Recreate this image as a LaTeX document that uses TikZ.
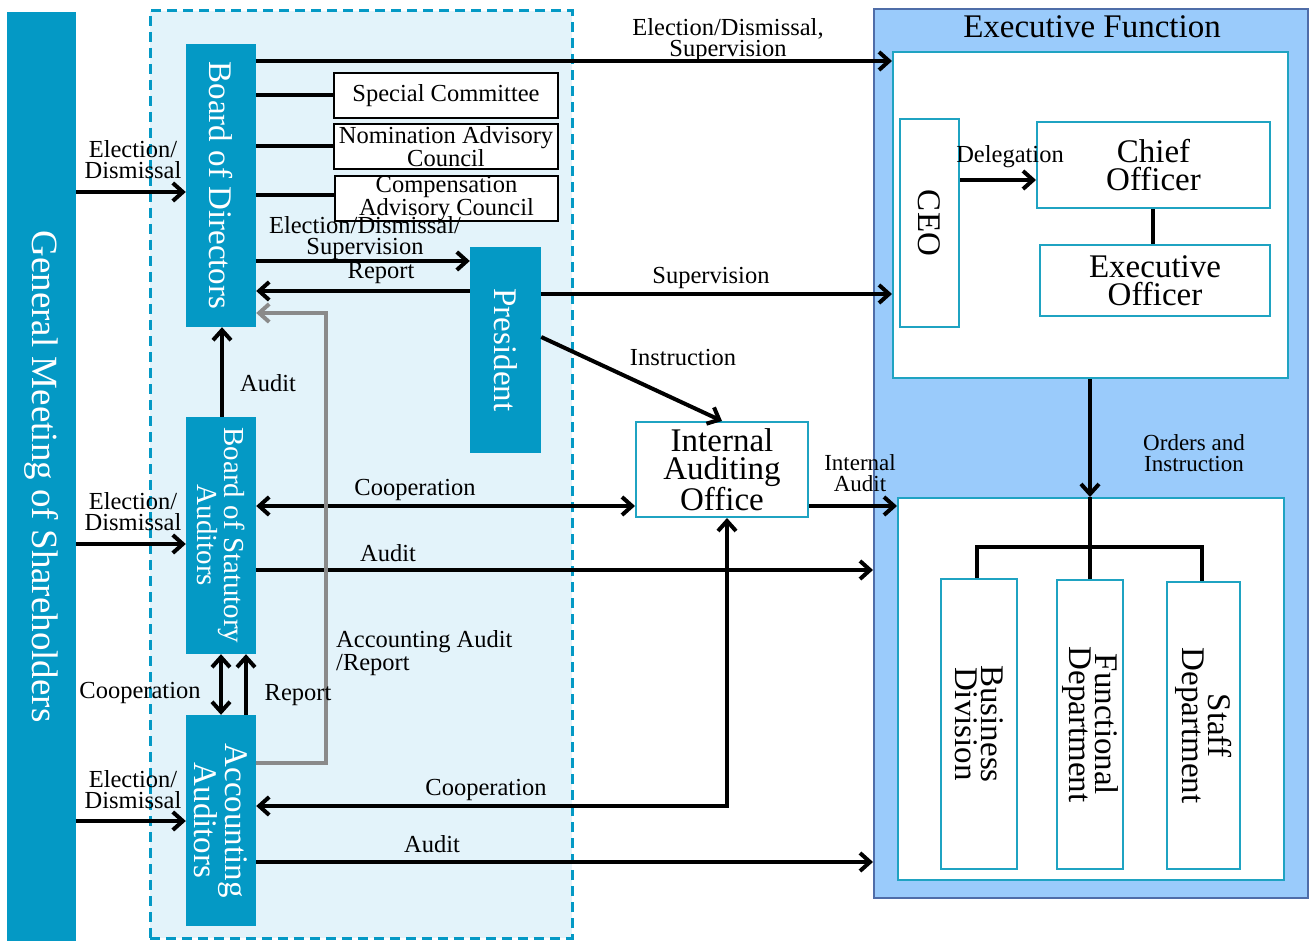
\documentclass[tikz,border=0pt]{standalone}
\usepackage{fontspec}
\setmainfont{Liberation Serif}
\usepackage{graphicx}
\usetikzlibrary{arrows.meta}
\definecolor{mteal}{HTML}{0499C5}
\definecolor{lblue}{HTML}{E3F3FA}
\definecolor{exblue}{HTML}{9ACBFB}
\definecolor{exborder}{HTML}{4F6DA8}
\definecolor{ibord}{HTML}{1FA3C2}
\definecolor{gline}{HTML}{8A8A8A}
\newcommand\fsA{\fontsize{24.5}{21}\selectfont}
\newcommand\fsN{\fontsize{23}{21}\selectfont}
\newcommand\fsB{\fontsize{33}{28}\selectfont}
\newcommand\fsC{\fontsize{29}{22}\selectfont}
\newcommand\fsD{\fontsize{33}{26}\selectfont}
\newcommand\fsG{\fontsize{37}{40}\selectfont}
\begin{document}
\begin{tikzpicture}[x=1pt,y=-1pt,
  tbox/.style={fill=mteal, draw=none, inner sep=0pt},
  wbox/.style={fill=white, draw=ibord, line width=2pt, inner sep=0pt},
  kbox/.style={fill=white, draw=black, line width=2pt, inner sep=0pt, font=\fsA, align=center},
  vtext/.style={rotate=-90, inner sep=0pt, align=center},
  lbl/.style={inner sep=0pt, font=\fsA, align=center},
  tip/.tip={Straight Barb[length=10pt,width=18pt]},
  arr/.style={line width=4pt,-tip},
  darr/.style={line width=4pt,tip-tip},
  garr/.style={line width=4pt,draw=gline,-{Straight Barb[length=10pt,width=18pt,color=gline]}},
  ln/.style={line width=4pt}]
\useasboundingbox (0,0) rectangle (1309,941);
% backgrounds
\node[draw=mteal, dash pattern=on 10pt off 6pt, line width=3pt, fill=lblue, inner sep=0pt,
      minimum width=422, minimum height=927] (grp) at (361,474.5) {};
\node[fill=exblue, draw=exborder, line width=2pt, inner sep=0pt,
      minimum width=434, minimum height=889] (exo) at (1091,453.5) {};
\node[font=\fsB, inner sep=0pt] (extitle) at (1092,27) {Executive Function};
% general meeting
\node[tbox, minimum width=69, minimum height=929] (gm) at (41.5,476.5) {};
\node[vtext, font=\fsG, text=white] (gmt) at (gm) {General Meeting of Shareholders};
% board of directors
\node[tbox, minimum width=70, minimum height=283] (bod) at (221,185.5) {};
\node[vtext, font=\fsB, text=white] (bodt) at (bod) {Board of Directors};
% committees
\node[kbox, minimum width=224, minimum height=45] (sc) at (446,95.5) {Special Committee};
\node[kbox, minimum width=224, minimum height=45] (nac) at (446,146.5) {Nomination Advisory\\Council};
\node[kbox, minimum width=223, minimum height=45] (cac) at (446.5,198.5) {Compensation\\Advisory Council};
% president
\node[tbox, minimum width=71, minimum height=206] (pres) at (505.5,350) {};
\node[vtext, font=\fsB, text=white] (prest) at (pres) {President};
% statutory auditors
\node[tbox, minimum width=70, minimum height=237] (bsa) at (221,535.5) {};
\node[vtext, font=\fsC, text=white] (bsat) at (bsa) {Board of Statutory\\Auditors};
% accounting auditors
\node[tbox, minimum width=70, minimum height=211] (aa) at (221,820.5) {};
\node[vtext, font=\fsD, text=white] (aat) at (aa) {Accounting\\Auditors};
% internal auditing office
\node[wbox, font=\fsB, align=center, minimum width=172, minimum height=95] (iao) at (722,469.5) {Internal\\Auditing\\Office};
% executive function
\node[wbox, minimum width=395, minimum height=326] (exu) at (1090.5,215) {};
\node[wbox, minimum width=59, minimum height=208] (ceo) at (929.5,223) {};
\node[vtext, font=\fsB] (ceot) at (ceo) {CEO};
\node[wbox, font=\fsB, align=center, minimum width=233, minimum height=86] (co) at (1153.5,165) {Chief\\Officer};
\node[wbox, font=\fsB, align=center, minimum width=230, minimum height=71] (eo) at (1155,280.5) {Executive\\Officer};
\node[wbox, minimum width=386, minimum height=382] (exl) at (1091,689) {};
\node[wbox, minimum width=76, minimum height=290] (bd) at (979,724) {};
\node[vtext, font=\fsD] (bdt) at (bd) {Business\\Division};
\node[wbox, minimum width=66, minimum height=289] (fd) at (1090,724.5) {};
\node[vtext, font=\fsD] (fdt) at (fd) {Functional\\Department};
\node[wbox, minimum width=73, minimum height=287] (sd) at (1203.5,725.5) {};
\node[vtext, font=\fsD] (sdt) at (sd) {Staff\\Department};
% connectors
\draw[arr] (gm.east |- 0,192) -- (bod.west |- 0,192);
\draw[arr] (gm.east |- 0,544) -- (bsa.west |- 0,544);
\draw[arr] (gm.east |- 0,821) -- (aa.west |- 0,821);
\draw[arr] (bod.east |- 0,61) -- (exu.west |- 0,61);
\draw[ln] (bod.east |- 0,95) -- (sc.west |- 0,95);
\draw[ln] (bod.east |- 0,146) -- (nac.west |- 0,146);
\draw[ln] (bod.east |- 0,195) -- (cac.west |- 0,195);
\draw[arr] (bod.east |- 0,261) -- (pres.west |- 0,261);
\draw[arr] (pres.west |- 0,291) -- (bod.east |- 0,291);
\draw[arr] (pres.east |- 0,294) -- (exu.west |- 0,294);
\draw[arr] (pres.east |- 0,337) -- (iao.north);
\draw[arr] (bsa.north -| 222,0) -- (bod.south -| 222,0);
\draw[darr] (bsa.east |- 0,506) -- (iao.west |- 0,506);
\draw[arr] (bsa.east |- 0,570) -- (exo.west |- 0,570);
\draw[arr] (iao.east |- 0,506) -- (exl.west |- 0,506);
\draw[darr] (bsa.south -| 221,0) -- (aa.north -| 221,0);
\draw[arr] (aa.north -| 246,0) -- (bsa.south -| 246,0);
\draw[garr] (aa.east |- 0,763) -| (326,313) -- (bod.east |- 0,313);
\draw[darr] (iao.south -| 727,0) |- (aa.east |- 0,806);
\draw[arr] (aa.east |- 0,862) -- (exo.west |- 0,862);
\draw[arr] (ceo.east |- 0,180) -- (co.west |- 0,180);
\draw[ln] (co.south -| 1153,0) -- (eo.north -| 1153,0);
\draw[arr] (exu.south -| 1090,0) -- (exl.north -| 1090,0);
\draw[ln] (exl.north -| 1090,0) -- (fd.north);
\draw[ln] (bd.north -| 977,0) |- (1202,547) -- (sd.north -| 1202,0);
% labels
\node[lbl] (l1) at (728,40) {Election/Dismissal,\\Supervision};
\node[lbl] (l2) at (133,160) {Election/\\Dismissal};
\node[lbl] (l3) at (133,512) {Election/\\Dismissal};
\node[lbl] (l4) at (133,790) {Election/\\Dismissal};
\node[lbl] (l5) at (365,238) {Election/Dismissal/\\Supervision};
\node[lbl] (l6) at (381,273) {Report};
\node[lbl] (l7) at (268,383) {Audit};
\node[lbl] (l8) at (711,278) {Supervision};
\node[lbl] (l9) at (683,358) {Instruction};
\node[lbl] (l10) at (1010,157) {Delegation};
\node[lbl] (l11) at (415,490) {Cooperation};
\node[lbl] (l12) at (388,553) {Audit};
\node[lbl, font=\fsN] (l13) at (860,473) {Internal\\Audit};
\node[lbl, font=\fsN] (l14) at (1194,453) {Orders and\\Instruction};
\node[lbl] (l15) at (140,693) {Cooperation};
\node[lbl] (l16) at (298,695) {Report};
\node[lbl, align=left, anchor=west] (l17) at (336,653) {Accounting Audit\\/Report};
\node[lbl] (l18) at (486,790) {Cooperation};
\node[lbl] (l19) at (432,844) {Audit};
\end{tikzpicture}
\end{document}
